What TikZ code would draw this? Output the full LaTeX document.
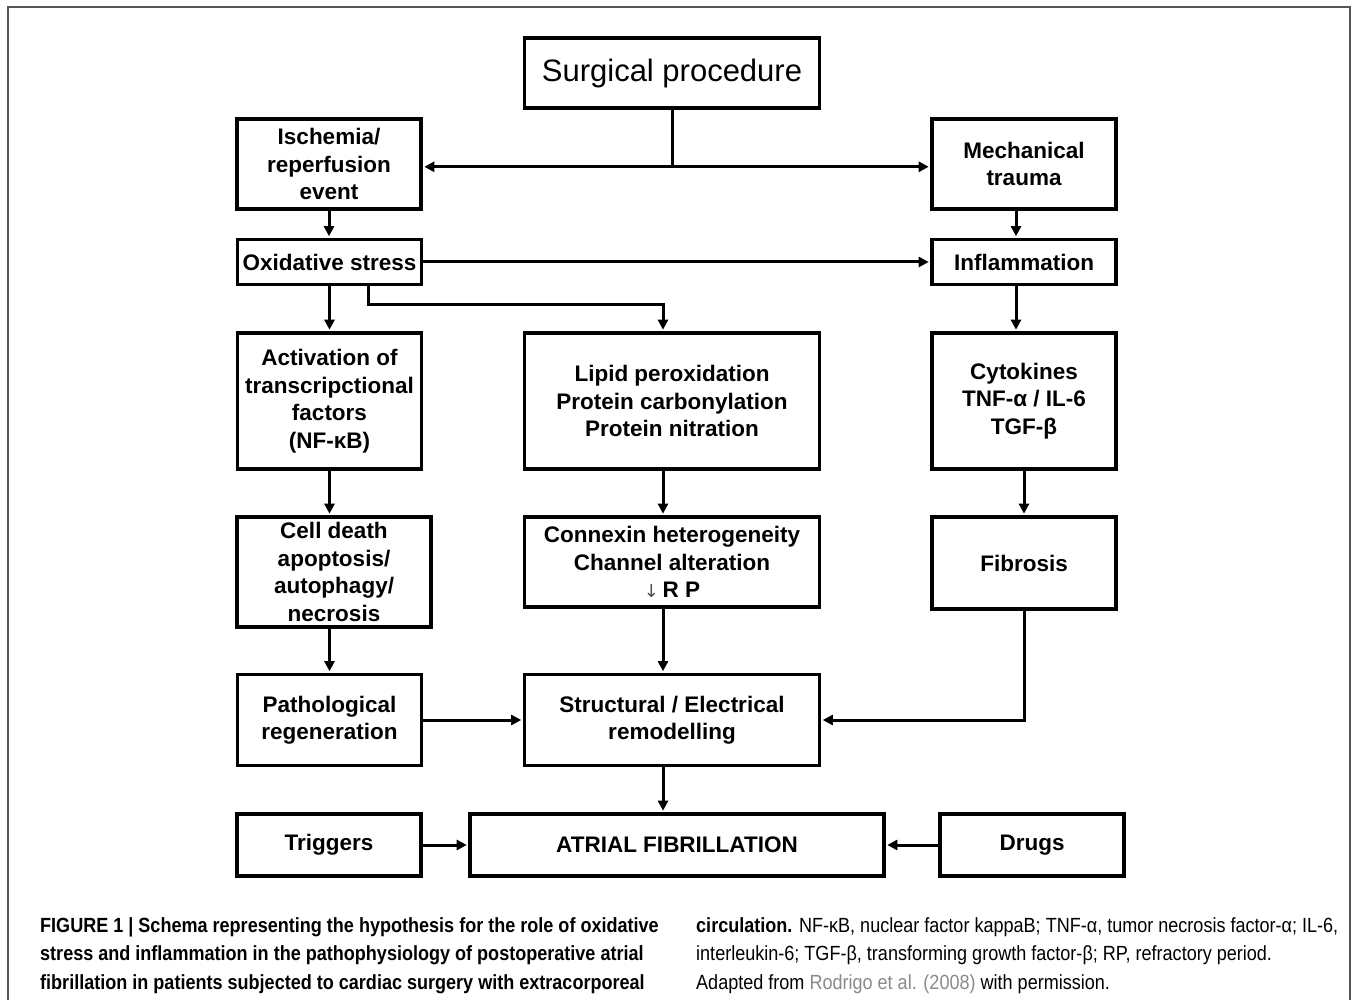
\documentclass[tikz,border=0pt]{standalone}
\usepackage{fontspec}
\setmainfont{Liberation Sans}
\newfontfamily\capfont[FakeStretch=0.88]{Liberation Sans}
\newfontfamily\symfont{DejaVu Sans}
\usetikzlibrary{arrows.meta,positioning}
\definecolor{framegray}{HTML}{555555}
\definecolor{refgray}{HTML}{8A8A8A}
\tikzset{
  >={Triangle[length=10pt,width=10pt]},
  % boxes
  box/.style={draw=black,line width=3.6pt,fill=white,inner sep=0pt,align=center,
              font=\bfseries\fontsize{22.5}{27.5}\selectfont},
  wh/.style 2 args={minimum width=#1,minimum height=#2},
  % arrows
  link/.style={draw=black,line width=3pt},
  arr/.style={link,->,shorten >=1.5pt},
  % caption
  captext/.style={inner sep=0pt,align=left,anchor=north west,
              font=\capfont\fontsize{20.5}{28.5}\selectfont},
}

\begin{document}
\begin{tikzpicture}[x=1pt,y=-1pt]
  \useasboundingbox (0,0) rectangle (1354,1000);
  \draw[framegray,line width=1.5pt] (8,1000) -- (8,7) -- (1350,7) -- (1350,1000);

  \node[box,wh={295pt}{70pt},font=\fontsize{31}{36}\selectfont] (surg) at (672,73) {Surgical procedure};
  \node[box,wh={184pt}{90pt}] (isch) at (329,164) {Ischemia/\\reperfusion\\event};
  \node[box,wh={184pt}{90pt}] (mech) at (1024,164) {Mechanical\\trauma};
  \node[box,wh={184pt}{45pt}] (oxid) at (329.5,262) {Oxidative stress};
  \node[box,wh={184pt}{45pt}] (infl) at (1024,262) {Inflammation};
  \node[box,wh={184pt}{136pt}] (actv) at (329.5,401) {Activation of\\transcripctional\\factors\\(NF-κB)};
  \node[box,wh={295pt}{136pt}] (lipid) at (672,401) {Lipid peroxidation\\Protein carbonylation\\Protein nitration};
  \node[box,wh={184pt}{136pt}] (cyto) at (1024,401) {Cytokines\\TNF-α / IL-6\\TGF-β};
  \node[box,wh={194pt}{110pt}] (death) at (334,572) {Cell death\\apoptosis/\\autophagy/\\necrosis};
  \node[box,wh={295pt}{90pt}] (conx) at (672,562) {Connexin heterogeneity\\Channel alteration\\{\symfont\mdseries\color{black!70}\fontsize{18}{18}\selectfont↓}\,R P};
  \node[box,wh={184pt}{92pt}] (fibr) at (1024,563) {Fibrosis};
  \node[box,wh={184pt}{91pt}] (patho) at (329.5,720) {Pathological\\regeneration};
  \node[box,wh={295pt}{91pt}] (remod) at (672,720) {Structural / Electrical\\remodelling};
  \node[box,wh={184pt}{62pt}] (trig) at (329,845) {Triggers};
  \node[box,wh={414pt}{62pt}] (af) at (677,845) {ATRIAL FIBRILLATION};
  \node[box,wh={184pt}{62pt}] (drug) at (1032,845) {Drugs};

  \draw[link] (surg.south) -- ++(0,57) coordinate (fork);
  \draw[arr] (fork) -- (fork -| isch.east);
  \draw[arr] (fork) -- (fork -| mech.west);
  \draw[arr] (isch.south) -- (isch.south |- oxid.north);
  \draw[arr] ([xshift=-8pt]mech.south) -- ([xshift=-8pt]infl.north);
  \draw[arr] (oxid.east) -- (infl.west);
  \draw[arr] (oxid.south) -- (oxid.south |- actv.north);
  \draw[arr] ([xshift=38.5pt]oxid.south) -- ++(0,18) -| ([xshift=-9pt]lipid.north);
  \draw[arr] ([xshift=-8pt]infl.south) -- ([xshift=-8pt]cyto.north);
  \draw[arr] (actv.south) -- (actv.south |- death.north);
  \draw[arr] ([xshift=-9pt]lipid.south) -- ([xshift=-9pt]conx.north);
  \draw[arr] (cyto.south) -- (fibr.north);
  \draw[arr] (patho.north |- death.south) -- (patho.north);
  \draw[arr] ([xshift=-9pt]conx.south) -- ([xshift=-9pt]remod.north);
  \draw[arr] (fibr.south) |- (remod.east);
  \draw[arr] (patho.east) -- (remod.west);
  \draw[arr] ([xshift=-9pt]remod.south) -- ([xshift=-9pt]remod.south |- af.north);
  \draw[arr] (trig.east) -- (af.west);
  \draw[arr] (drug.west) -- (af.east);

  \node[captext] (capl) at (40,917) {\textbf{FIGURE 1 | Schema representing the hypothesis for the role of oxidative}\\
    \textbf{stress and inflammation in the pathophysiology of postoperative atrial}\\
    \textbf{fibrillation in patients subjected to cardiac surgery with extracorporeal}};
  \node[captext] (capr) at (696,917) {\textbf{circulation.} NF-κB, nuclear factor kappaB; TNF-α, tumor necrosis factor-α; IL-6,\\
    interleukin-6; TGF-β, transforming growth factor-β; RP, refractory period.\\
    Adapted from {\color{refgray}Rodrigo et al. (2008)} with permission.};
\end{tikzpicture}
\end{document}
